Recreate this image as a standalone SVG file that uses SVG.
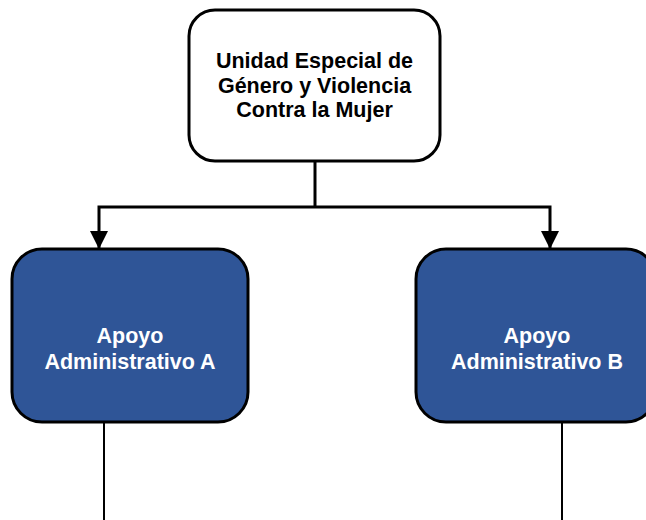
<svg xmlns="http://www.w3.org/2000/svg" width="646" height="520" viewBox="0 0 646 520">
<defs>
<style>
.box{stroke:#000;stroke-width:3}
.top{fill:#fff}
.blue{fill:#2F5597}
.t{font-family:"Liberation Sans",Arial,sans-serif;font-weight:bold;font-size:21.5px;text-anchor:middle}
.tw{fill:#fff}
.tb{fill:#000}
.c{fill:none;stroke:#000;stroke-width:3}
.c2{fill:none;stroke:#000;stroke-width:2}
</style>
<marker id="arr" viewBox="0 0 10 10" refX="10" refY="5" markerWidth="6" markerHeight="6" orient="auto" markerUnits="strokeWidth">
<path d="M0,0 L10,5 L0,10 z" fill="#000"/>
</marker>
</defs>
<rect width="646" height="520" fill="#fff"/>
<g id="connectors">
<path class="c" d="M315,161 V207"/>
<path class="c" d="M315,207 H99 V249" marker-end="url(#arr)"/>
<path class="c" d="M315,207 H550 V249" marker-end="url(#arr)"/>
<path class="c2" d="M104,422 V520"/>
<path class="c2" d="M562,422 V520"/>
</g>
<g id="node-top">
<rect class="box top" x="189" y="10" width="251" height="151" rx="26" ry="26"/>
<text class="t tb" x="314.5" y="68">Unidad Especial de</text>
<text class="t tb" x="314.5" y="92.5">Género y Violencia</text>
<text class="t tb" x="314.5" y="117">Contra la Mujer</text>
</g>
<g id="node-a">
<rect class="box blue" x="12" y="249" width="236" height="173" rx="30" ry="30"/>
<text class="t tw" x="130" y="343">Apoyo</text>
<text class="t tw" x="130" y="369">Administrativo A</text>
</g>
<g id="node-b">
<rect class="box blue" x="416" y="249" width="240" height="173" rx="30" ry="30"/>
<text class="t tw" x="537" y="343">Apoyo</text>
<text class="t tw" x="537" y="369">Administrativo B</text>
</g>
</svg>
